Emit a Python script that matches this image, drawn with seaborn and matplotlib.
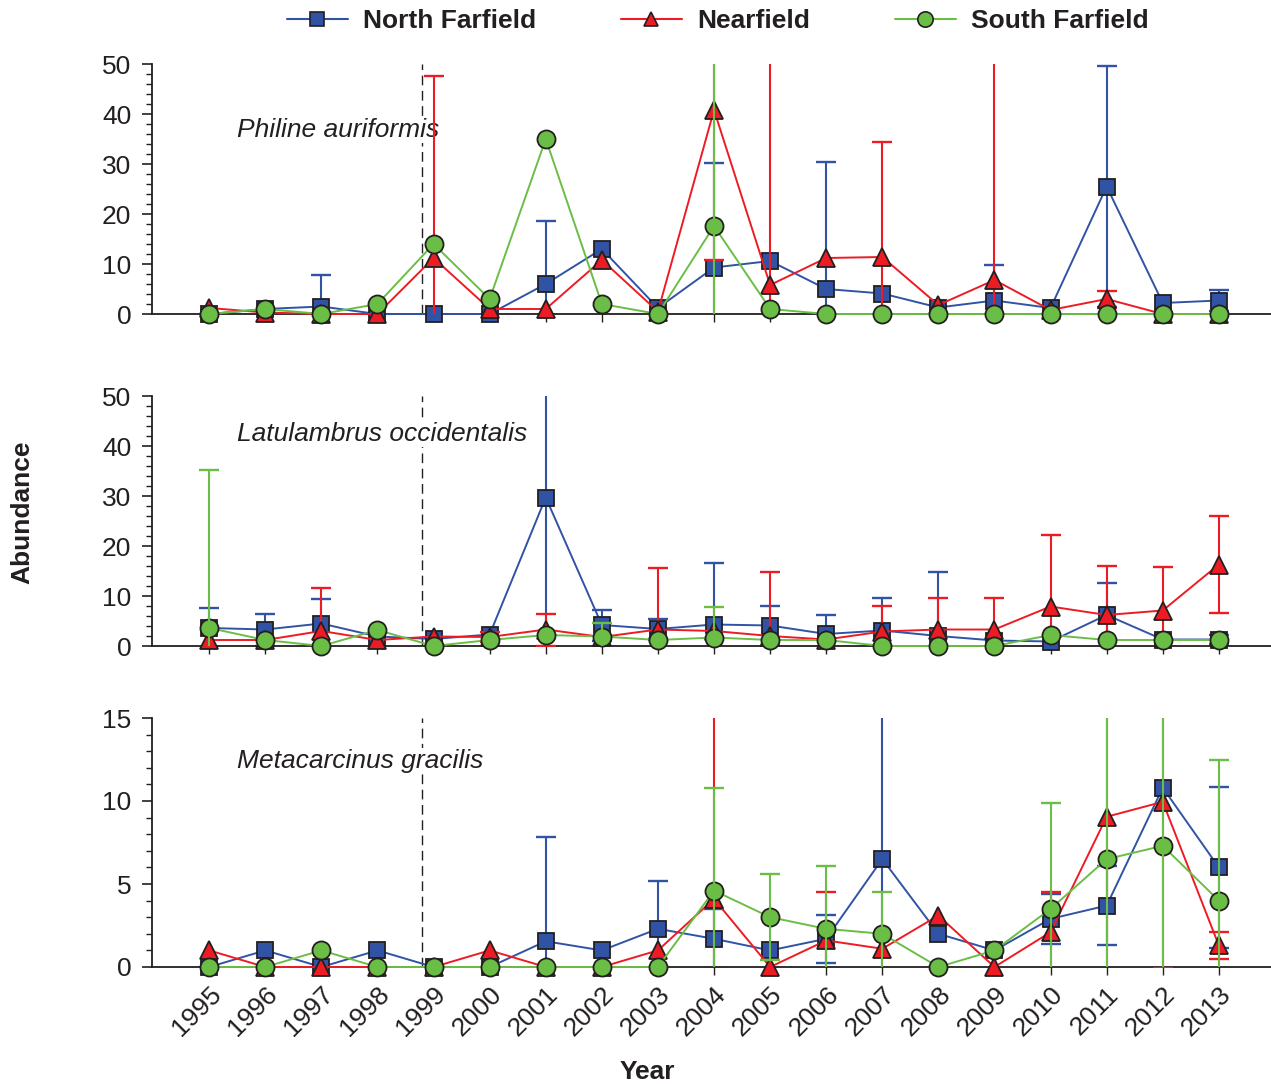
import numpy as np
import pandas as pd
import matplotlib
matplotlib.use("Agg")
import matplotlib.pyplot as plt
from matplotlib.ticker import MultipleLocator
from matplotlib.lines import Line2D
import seaborn as sns

nan = np.nan

years = list(range(1995, 2014))
sites = ["North Farfield", "Nearfield", "South Farfield"]
species = ["Philine auriformis", "Latulambrus occidentalis", "Metacarcinus gracilis"]

# Philine auriformis: mean abundance and SD per site
phil_nf = [0, 1, 1.5, 0, 0, 0, 6, 13, 1.2, 9.3, 10.6, 5, 4.1, 1.3, 2.7, 1.2, 25.5, 2.2, 2.7]
phil_nf_sd = [nan, nan, 6.3, nan, nan, nan, 12.7, nan, nan, 21, nan, 25.4, nan, nan, 7.1, nan, 24.1, nan, 2.1]
phil_nn = [1.2, 0.3, 0, 0, 11.2, 1, 1, 10.8, 0.5, 40.8, 5.8, 11.2, 11.4, 1.8, 6.8, 0.8, 3.0, 0, 0]
phil_nn_sd = [nan, nan, nan, nan, 36.4, nan, nan, nan, nan, 30, 60, nan, 23.1, nan, 50, nan, 1.7, nan, nan]
phil_sf = [0, 1, 0, 2, 14, 3, 35, 2, 0, 17.6, 1, 0, 0, 0, 0, 0, 0, 0, 0]
phil_sf_sd = [nan, nan, nan, nan, nan, nan, nan, nan, nan, 40, nan, nan, nan, nan, nan, nan, nan, nan, nan]

# Latulambrus occidentalis
latu_nf = [3.6, 3.3, 4.5, 1.9, 1.4, 2.3, 29.7, 4.2, 3.4, 4.3, 4.1, 2.4, 3.1, 2.0, 1.1, 0.9, 6.2, 1.3, 1.3]
latu_nf_sd = [4.1, 3.2, 5.0, nan, nan, nan, 40, 3.1, 2.1, 12.4, 4.0, 3.9, 6.5, 12.8, nan, nan, 6.5, nan, 0.9]
latu_nn = [1.2, 1.2, 3.0, 1.2, 1.9, 1.8, 3.3, 1.8, 3.3, 3.0, 2.0, 1.3, 2.9, 3.3, 3.3, 7.9, 6.2, 7.1, 16.3]
latu_nn_sd = [nan, nan, 8.7, nan, nan, 1.0, 3.2, nan, 12.4, nan, 12.8, nan, 5.2, 6.3, 6.3, 14.4, 9.8, 8.7, 9.7]
latu_sf = [3.6, 1.2, 0, 3.2, 0, 1.2, 2.2, 1.9, 1.2, 1.7, 1.2, 1.2, 0, 0, 0, 2.2, 1.2, 1.2, 1.2]
latu_sf_sd = [31.7, nan, nan, nan, nan, nan, nan, 2.8, nan, 6.2, nan, nan, nan, nan, nan, nan, nan, nan, nan]

# Metacarcinus gracilis
meta_nf = [0, 1.0, 0, 1.0, 0, 0, 1.55, 1.0, 2.3, 1.7, 1.0, 1.7, 6.5, 2.0, 1.0, 2.9, 3.7, 10.8, 6.0]
meta_nf_sd = [nan, nan, nan, nan, nan, nan, 6.3, nan, 2.9, 1.8, nan, 1.45, 10, nan, nan, 1.5, 2.4, nan, 4.85]
meta_nn = [1.0, 0, 0, 0, 0, 1.0, 0, 0, 1.0, 4.1, 0, 1.6, 1.1, 3.1, 0, 2.1, 9.05, 9.95, 1.3]
meta_nn_sd = [nan, nan, nan, nan, nan, nan, nan, nan, nan, 12, nan, 2.9, nan, nan, nan, 2.4, 9.5, 10, 0.8]
meta_sf = [0, 0, 1.0, 0, 0, 0, 0, 0, 0, 4.6, 3.0, 2.3, 2.0, 0, 1.0, 3.5, 6.5, 7.3, 4.0]
meta_sf_sd = [nan, nan, nan, nan, nan, nan, nan, nan, nan, 6.2, 2.6, 3.8, 2.5, nan, nan, 6.35, 10, 10, 8.5]

panels = [
    (species[0], [(phil_nf, phil_nf_sd), (phil_nn, phil_nn_sd), (phil_sf, phil_sf_sd)], 50, 10, 2, 36.8),
    (species[1], [(latu_nf, latu_nf_sd), (latu_nn, latu_nn_sd), (latu_sf, latu_sf_sd)], 50, 10, 2, 42.4),
    (species[2], [(meta_nf, meta_nf_sd), (meta_nn, meta_nn_sd), (meta_sf, meta_sf_sd)], 15, 5, 1, 12.4),
]

colors = {"North Farfield": "#3053A5", "Nearfield": "#ED1C24", "South Farfield": "#6BBE45"}
markers = {"North Farfield": "s", "Nearfield": "^", "South Farfield": "o"}
msizes = {"North Farfield": 11.5, "Nearfield": 12.5, "South Farfield": 13}
# drawing order: errorbars / markers
z_err = {"North Farfield": 2, "Nearfield": 4, "South Farfield": 7}
z_line = {"North Farfield": 3, "Nearfield": 5, "South Farfield": 6}

ink = "#231F20"
outfall_x = 1998.8
fs = 19

sns.set_theme(style="ticks")
plt.rcParams["font.family"] = ["Liberation Sans", "DejaVu Sans"]
plt.rcParams["text.color"] = ink
plt.rcParams["axes.labelcolor"] = ink
plt.rcParams["xtick.color"] = ink
plt.rcParams["ytick.color"] = ink

fig = plt.figure(figsize=(12.71, 10.84), dpi=100)
W, H = 1271, 1084
ax_px = [(64, 314), (396, 646), (718, 967)]
left = 152 / W
axes = []
for top_px, bot_px in ax_px:
    ax = fig.add_axes([left, 1 - bot_px / H, 1 - left, (bot_px - top_px) / H])
    axes.append(ax)

for ax, (name, series, ymax, major, minor, label_y) in zip(axes, panels):
    for site, (vals, sd) in zip(sites, series):
        df = pd.DataFrame({"Year": years, "Abundance": vals})
        sns.lineplot(data=df, x="Year", y="Abundance", ax=ax, color=colors[site],
                     marker=markers[site], markersize=msizes[site], markeredgecolor=ink,
                     markeredgewidth=1.3, linewidth=1.4, clip_on=False,
                     zorder=z_line[site], legend=False)
        sd_arr = np.asarray(sd, dtype=float)
        ok = ~np.isnan(sd_arr)
        ax.errorbar(np.asarray(years)[ok], np.asarray(vals, dtype=float)[ok], yerr=sd_arr[ok],
                    fmt="none", ecolor=colors[site], elinewidth=1.5, capsize=7.5,
                    capthick=1.7, zorder=z_err[site])

    ax.axvline(outfall_x, color=ink, lw=1.0, ls=(0, (7, 4)), zorder=1)
    ax.text(1995.5, label_y, name, style="italic", fontsize=fs, color=ink,
            ha="left", va="center", zorder=1.5,
            bbox=dict(facecolor="white", edgecolor="none", pad=1))

    ax.set_xlim(1993.98, 2013.93)
    ax.set_ylim(0, ymax)
    ax.set_xticks(years)
    ax.yaxis.set_major_locator(MultipleLocator(major))
    ax.yaxis.set_minor_locator(MultipleLocator(minor))
    ax.tick_params(axis="y", which="major", length=7, width=1.2, labelsize=fs, pad=8)
    ax.tick_params(axis="y", which="minor", length=4, width=1.0)
    ax.tick_params(axis="x", which="major", length=6, width=1.0, labelsize=fs, pad=5)
    sns.despine(ax=ax)
    for sp in ("left", "bottom"):
        ax.spines[sp].set_color(ink)
        ax.spines[sp].set_linewidth(1.3)
    ax.set_xlabel("")
    ax.set_ylabel("")
    ax.grid(False)

for ax in axes[:2]:
    ax.tick_params(axis="x", labelbottom=False)
axes[2].set_xticklabels([str(y) for y in years], rotation=45, ha="right",
                        rotation_mode="anchor")

fig.text(647 / W, 1 - 1072 / H, "Year", ha="center", va="center",
         fontsize=fs, fontweight="bold", color=ink)
fig.text(22 / W, 1 - 512 / H, "Abundance", ha="center", va="center",
         rotation=90, fontsize=fs, fontweight="bold", color=ink)

handles = [Line2D([0], [0], color=colors[s], marker=markers[s], markersize=msizes[s] * 0.85,
                  markeredgecolor=ink, markeredgewidth=1.2, lw=1.5) for s in sites]
fig.legend(handles, sites, loc="center", bbox_to_anchor=(718 / W, 1 - 21 / H), ncol=3,
           frameon=False, prop={"size": fs, "weight": "bold"}, handlelength=2.3,
           handletextpad=0.6, columnspacing=3.2, borderaxespad=0)

fig.savefig("out.png", dpi=100)
